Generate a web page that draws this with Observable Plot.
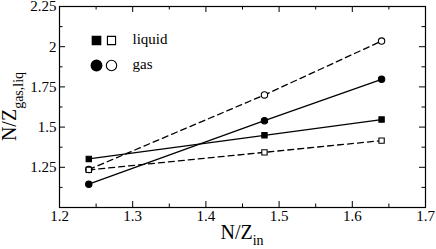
<!DOCTYPE html>
<html>
<head>
<meta charset="utf-8">
<script src="https://cdn.jsdelivr.net/npm/d3@7"></script>
<script src="https://cdn.jsdelivr.net/npm/@observablehq/plot@0.6"></script>
<style>
  html, body { margin: 0; padding: 0; background: #fff; }
  svg text, svg tspan { font-family: "Liberation Serif", "Times New Roman", Times, serif !important; }
</style>
</head>
<body>
<div id="chart"></div>
<script>
// ---- data ----
const nzIn = [1.24, 1.48, 1.64];
const liquidFilled = [1.302, 1.449, 1.547];
const liquidOpen = [1.234, 1.343, 1.416];
const gasFilled = [1.145, 1.540, 1.797];
const gasOpen = [1.236, 1.700, 2.035];

const xTicks = [1.2, 1.3, 1.4, 1.5, 1.6, 1.7];
const xMinor = [1.25, 1.35, 1.45, 1.55, 1.65];
const yTicks = [1, 1.25, 1.5, 1.75, 2, 2.25];
const yMinor = [1.125, 1.375, 1.625, 1.875, 2.125];

const legendLabels = ["liquid", "gas"];

// ---- build series ----
const series = [
  {name: "liquid", filled: true, symbol: "square", vals: liquidFilled},
  {name: "liquid", filled: false, symbol: "square", vals: liquidOpen},
  {name: "gas", filled: true, symbol: "circle", vals: gasFilled},
  {name: "gas", filled: false, symbol: "circle", vals: gasOpen}
];
const rows = series.flatMap((s, i) => nzIn.map((x, j) => ({
  key: i, x, y: s.vals[j], filled: s.filled, symbol: s.symbol
})));

const W = 436, H = 249;
const mL = 59, mR = 11, mT = 6, mB = 42;
const ph = H - mT - mB;
const pw = W - mL - mR;
const major = 6, minor = 3.5;
const font = "Liberation Serif";

const legendRows = [
  {label: legendLabels[0], symbol: "square"},
  {label: legendLabels[1], symbol: "circle"}
];

function legendMarks(item, rowIndex) {
  const dy = 40 + rowIndex * 25 - mT;
  const r = item.symbol === "square" ? 4.6 : 5.2;
  return [
    Plot.dot([item], {frameAnchor: "top-left", dx: 96 - mL, dy, symbol: "symbol", r, fill: "black", stroke: "black"}),
    Plot.dot([item], {frameAnchor: "top-left", dx: 111 - mL, dy, symbol: "symbol", r, fill: "white", stroke: "black", strokeWidth: 1.1}),
    Plot.text([item], {frameAnchor: "top-left", dx: 132 - mL, dy: dy - 1, text: "label", textAnchor: "start",
      fontSize: 15, lineAnchor: "middle", fill: "black"})
  ];
}

const chart = Plot.plot({
  width: W, height: H,
  marginLeft: mL, marginRight: mR, marginTop: mT, marginBottom: mB,
  x: {domain: [1.2, 1.7]},
  y: {domain: [1, 2.25]},
  style: {fontFamily: font, fontSize: "15px", background: "white", color: "black"},
  marks: [
    ...series.map((s, i) => Plot.line(rows.filter(r => r.key === i), {
      x: "x", y: "y", stroke: "black", strokeWidth: 1.3,
      strokeDasharray: s.filled ? null : "6,4"
    })),
    Plot.dot(rows, {
      x: "x", y: "y", symbol: "symbol", r: d => d.symbol === "square" ? 4.9 : 5.5,
      fill: d => d.filled ? "black" : "white", stroke: "black", strokeWidth: 1.1
    }),
    Plot.frame({stroke: "black", strokeWidth: 1.2}),
    Plot.tickX(xTicks, {x: d => d, insetTop: ph - major, stroke: "black"}),
    Plot.tickX(xTicks, {x: d => d, insetBottom: ph - major, stroke: "black"}),
    Plot.tickX(xMinor, {x: d => d, insetTop: ph - minor, stroke: "black"}),
    Plot.tickX(xMinor, {x: d => d, insetBottom: ph - minor, stroke: "black"}),
    Plot.tickY(yTicks, {y: d => d, insetRight: pw - major, stroke: "black"}),
    Plot.tickY(yTicks, {y: d => d, insetLeft: pw - major, stroke: "black"}),
    Plot.tickY(yMinor, {y: d => d, insetRight: pw - minor, stroke: "black"}),
    Plot.tickY(yMinor, {y: d => d, insetLeft: pw - minor, stroke: "black"}),
    Plot.axisX({ticks: xTicks, tickSize: 0, tickPadding: 3, label: null, fontSize: 15, tickFormat: d3.format("")}),
    Plot.axisY({ticks: yTicks.filter(d => d > 1), tickSize: 0, tickPadding: 3, label: null, fontSize: 15, tickFormat: d3.format("")}),
    ...legendRows.flatMap((d, i) => legendMarks(d, i))
  ]
});

const svg = d3.select(chart);
const xt = svg.append("text")
  .attr("x", mL + pw / 2).attr("y", 239)
  .attr("text-anchor", "middle")
  .attr("font-family", font).attr("font-size", 20).attr("fill", "black");
xt.append("tspan").text("N/Z");
xt.append("tspan").attr("font-size", 14).attr("dy", 6).text("in");

const yt = svg.append("text")
  .attr("transform", `translate(16, ${mT + ph / 2}) rotate(-90)`)
  .attr("text-anchor", "middle")
  .attr("font-family", font).attr("font-size", 20).attr("fill", "black");
yt.append("tspan").text("N/Z");
yt.append("tspan").attr("font-size", 14).attr("dy", 7).text("gas,liq");

document.getElementById("chart").appendChild(chart);
</script>
</body>
</html>
